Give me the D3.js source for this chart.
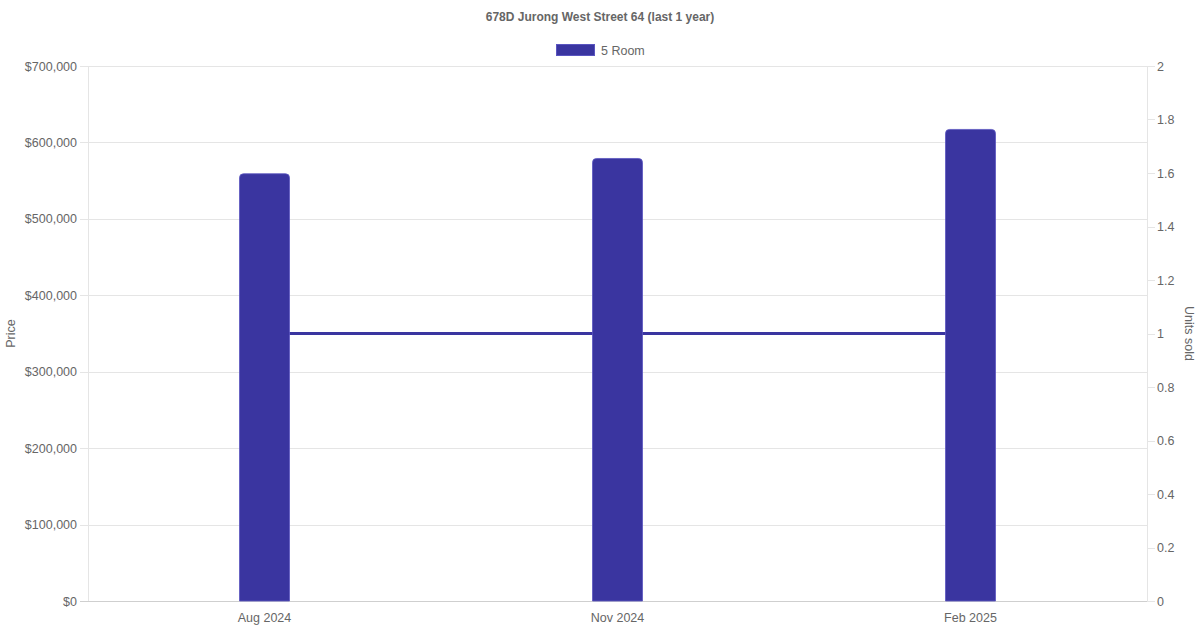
<!DOCTYPE html>
<style>
body { margin: 0; background: #fff; }
text { font-family: "Liberation Sans", Arial, sans-serif; fill: #666; }
.axis .domain { display: none; }
</style>
<svg width="1200" height="630"></svg>
<script src="https://cdn.jsdelivr.net/npm/d3@7"></script>
<script>

var months = ["Aug 2024", "Nov 2024", "Feb 2025"];
var prices = [559000, 579000, 617000];
var unitsSold = [1, 1, 1];
var priceTicks = [0, 100000, 200000, 300000, 400000, 500000, 600000, 700000];
var unitTicks = [0, 0.2, 0.4, 0.6, 0.8, 1, 1.2, 1.4, 1.6, 1.8, 2];
var seriesName = "5 Room";
var chartTitle = "678D Jurong West Street 64 (last 1 year)";

var color = "#3a35a0";

var svg = d3.select("svg"),
    margin = {top: 66, right: 53, bottom: 29, left: 88},
    width = +svg.attr("width") - margin.left - margin.right,
    height = +svg.attr("height") - margin.top - margin.bottom,
    g = svg.append("g").attr("transform", "translate(" + margin.left + "," + margin.top + ")");

var x = d3.scaleBand()
    .domain(months)
    .range([0, width]);

var y = d3.scaleLinear()
    .domain([0, 700000])
    .range([height, 0]);

var y2 = d3.scaleLinear()
    .domain([0, 2])
    .range([height, 0]);

// gridlines
g.append("g")
  .selectAll("line")
  .data(priceTicks)
  .enter().append("line")
    .attr("x1", -8)
    .attr("x2", width)
    .attr("y1", function(d) { return Math.round(y(d)) + 0.5; })
    .attr("y2", function(d) { return Math.round(y(d)) + 0.5; })
    .attr("stroke", function(d) { return d === 0 ? "#cfcfcf" : "#e5e5e5"; });

g.append("line")
    .attr("x1", 0.5).attr("x2", 0.5)
    .attr("y1", 0).attr("y2", height)
    .attr("stroke", "#e5e5e5");

g.append("line")
    .attr("x1", width + 0.5).attr("x2", width + 0.5)
    .attr("y1", 0).attr("y2", height)
    .attr("stroke", "#e5e5e5");

// right tick marks
g.append("g")
  .selectAll("line")
  .data(unitTicks)
  .enter().append("line")
    .attr("x1", width)
    .attr("x2", width + 8)
    .attr("y1", function(d) { return Math.round(y2(d)) + 0.5; })
    .attr("y2", function(d) { return Math.round(y2(d)) + 0.5; })
    .attr("stroke", "#e5e5e5");

// axes
g.append("g")
    .attr("class", "axis")
    .call(d3.axisLeft(y).tickValues(priceTicks).tickSize(0).tickPadding(11)
      .tickFormat(function(d) { return "$" + d3.format(",")(d); }))
    .selectAll("text").attr("font-size", 12.5);

g.append("g")
    .attr("class", "axis")
    .attr("transform", "translate(" + width + ",0)")
    .call(d3.axisRight(y2).tickValues(unitTicks).tickSize(0).tickPadding(10)
      .tickFormat(function(d) { return d3.format("")(d); }))
    .selectAll("text").attr("font-size", 12.5);

g.append("g")
    .attr("class", "axis")
    .attr("transform", "translate(0," + height + ")")
    .call(d3.axisBottom(x).tickSize(0).tickPadding(12))
    .selectAll("text").attr("font-size", 12.5);

// units sold line (behind bars)
var line = d3.line()
    .x(function(d, i) { return x(months[i]) + x.bandwidth() / 2; })
    .y(function(d) { return y2(d); });

g.append("path")
    .datum(unitsSold)
    .attr("fill", "none")
    .attr("stroke", color)
    .attr("stroke-width", 3)
    .attr("d", line);

// bars with rounded tops
var barW = 50, r = 4;
g.append("g")
  .selectAll("path")
  .data(prices)
  .enter().append("path")
    .attr("fill", color)
    .attr("stroke", "#5a55c0")
    .attr("stroke-width", 0.8)
    .attr("d", function(d, i) {
      var x0 = x(months[i]) + x.bandwidth() / 2 - barW / 2,
          x1 = x0 + barW,
          y0 = y(d),
          yb = height;
      return "M" + x0 + "," + yb +
             "V" + (y0 + r) +
             "Q" + x0 + "," + y0 + " " + (x0 + r) + "," + y0 +
             "H" + (x1 - r) +
             "Q" + x1 + "," + y0 + " " + x1 + "," + (y0 + r) +
             "V" + yb + "Z";
    });

// axis titles
svg.append("text")
    .attr("transform", "translate(15," + (margin.top + height / 2) + ") rotate(-90)")
    .attr("text-anchor", "middle")
    .attr("font-size", 12.5)
    .text("Price");

svg.append("text")
    .attr("transform", "translate(1185," + (margin.top + height / 2) + ") rotate(90)")
    .attr("text-anchor", "middle")
    .attr("font-size", 12.5)
    .text("Units sold");

// title
svg.append("text")
    .attr("x", 600)
    .attr("y", 21)
    .attr("text-anchor", "middle")
    .attr("font-size", 12)
    .attr("font-weight", "bold")
    .text(chartTitle);

// legend
svg.append("rect")
    .attr("x", 556.5).attr("y", 44.5)
    .attr("width", 38).attr("height", 11)
    .attr("fill", color)
    .attr("stroke", "#5a55c0");

svg.append("text")
    .attr("x", 601)
    .attr("y", 54.5)
    .attr("font-size", 12.5)
    .text(seriesName);

</script>
